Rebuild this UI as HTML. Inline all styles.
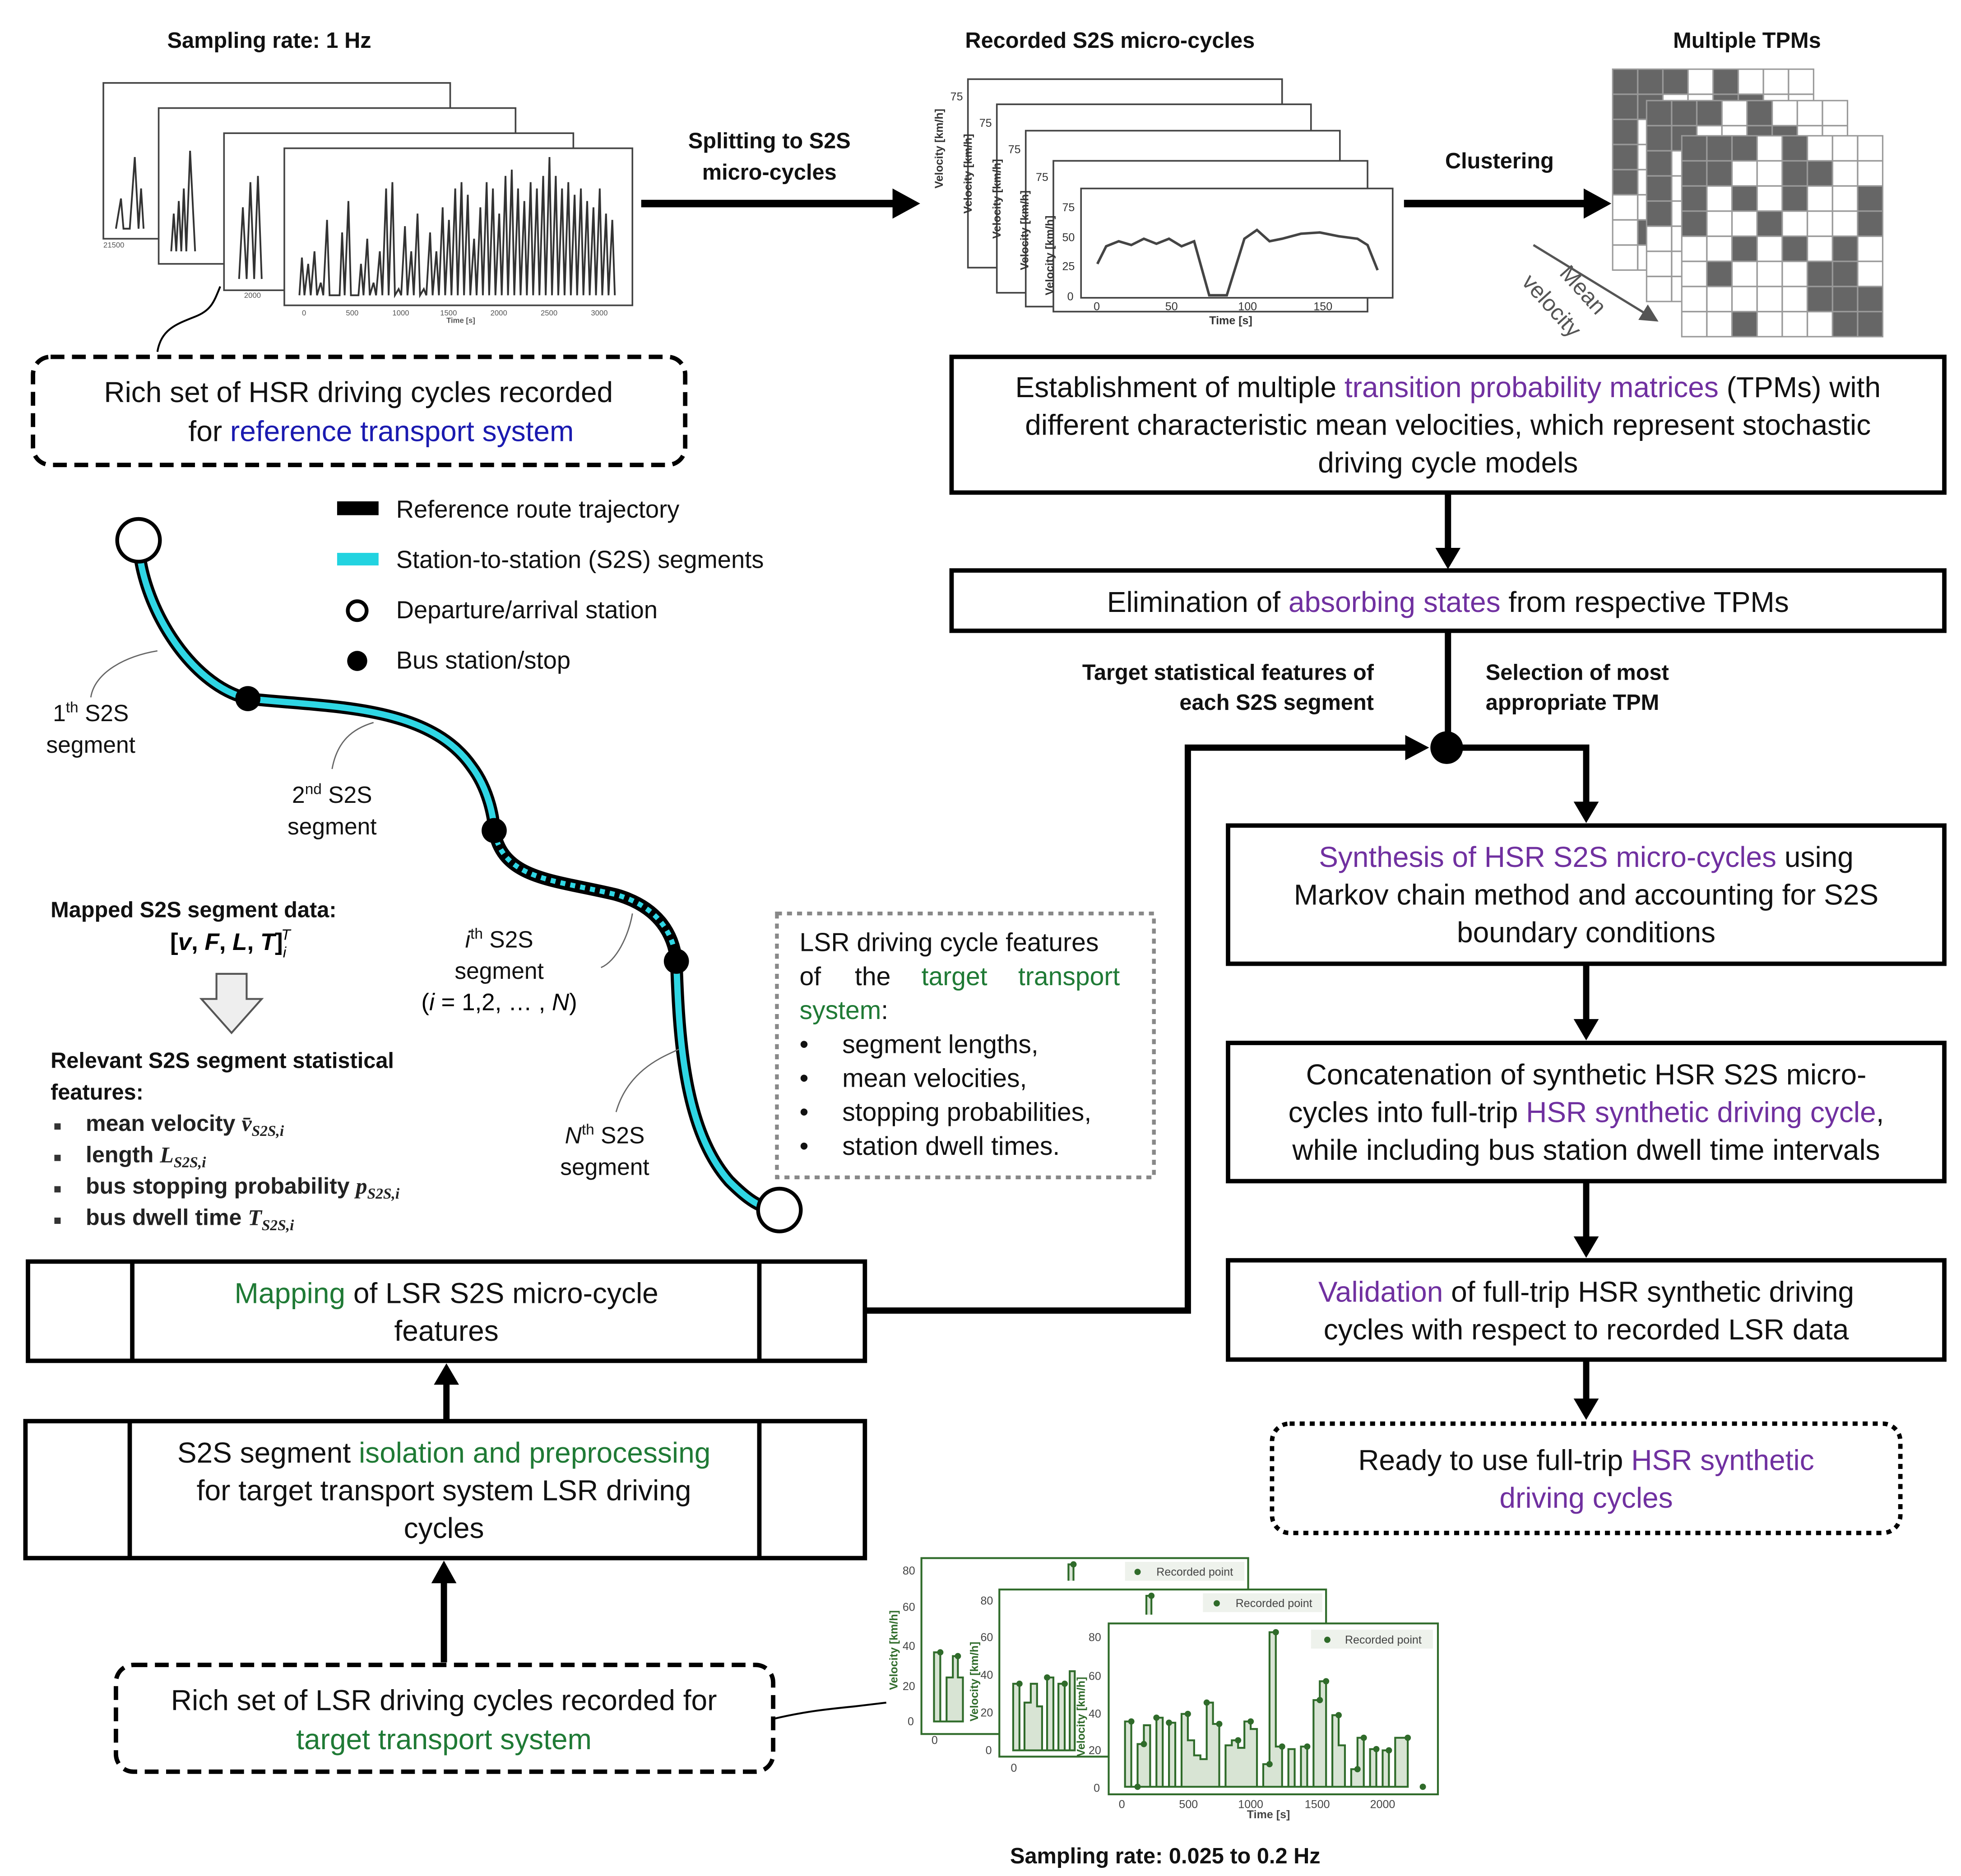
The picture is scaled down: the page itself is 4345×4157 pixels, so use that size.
<!DOCTYPE html>
<html><head><meta charset="utf-8"><style>
html,body{margin:0;padding:0;background:#fff;}
svg{display:block;}
text{font-family:"Liberation Sans",Arial,sans-serif;}
.b{font-weight:bold;font-size:17.5px;fill:#111;}
.m{font-size:23px;fill:#111;}
.l{font-size:19.5px;fill:#111;}
.s{font-size:18.5px;fill:#111;}
.pu{fill:#7030a0;}
.bl{fill:#1a1ab0;}
.gr{fill:#1f7a35;}
</style></head><body>
<svg width="4345" height="4157" viewBox="0 0 1560 1493" xmlns="http://www.w3.org/2000/svg">
<defs>
<pattern id="grid" x="0" y="0" width="20" height="20" patternUnits="userSpaceOnUse"><rect width="20" height="20" fill="none" stroke="#999" stroke-width="1.2"/></pattern>
<marker id="ag" markerWidth="8" markerHeight="8" refX="7" refY="4" orient="auto" markerUnits="strokeWidth"><path d="M0,0 L8,4 L0,8 Z" fill="#555"/></marker>
</defs>
<rect width="1560" height="1493" fill="#fff"/>

<!-- Top-left HSR charts -->
<text class="b" x="214" y="38" text-anchor="middle">Sampling rate: 1 Hz</text>
<g stroke="#444" fill="#fff" stroke-width="1.3">
<rect x="82" y="66" width="276" height="124"/>
<rect x="126" y="86" width="284" height="124"/>
<rect x="178" y="106" width="278" height="125"/>
<rect x="226" y="118" width="277" height="125"/>
</g>
<g stroke="#333" fill="none" stroke-width="1.4">
<path d="M92,182 L96,158 L98,182 L103,182 L107,125 L110,182 L112,150 L114,182"/>
<path d="M136,200 L138,170 L140,200 L142,160 L144,200 L146,150 L148,200 L151,120 L155,200"/>
<path d="M190,222 L193,165 L196,222 L199,145 L202,222 L205,140 L208,222"/>
<path d="M238,235 L240,205 L242,235 L245,210 L247,235 L250,200 L252,235 L255,225 L257,235 L260,175 L262,235 L270,235 L272,185 L274,235 L277,160 L279,235 L285,235 L287,210 L289,235 L292,190 L294,235 L297,225 L299,235 L302,200 L304,235 L307,150 L309,235 L312,145 L314,235 L317,230 L319,235 L322,180 L324,235 L327,200 L329,235 L332,170 L334,235 L337,230 L339,235 L342,185 L344,235 L347,200 L349,235 L352,165 L354,235 L357,175 L359,235 L362,150 L364,235 L367,145 L369,235 L372,155 L374,235 L377,190 L379,235 L382,165 L384,235 L387,145 L389,235 L392,150 L394,235 L397,170 L399,235 L402,140 L404,235 L407,135 L409,235 L412,150 L414,235 L417,160 L419,235 L422,145 L424,235 L427,150 L429,235 L432,140 L434,235 L437,125 L439,235 L442,140 L444,235 L447,150 L449,235 L452,145 L454,235 L457,155 L459,235 L462,150 L464,235 L467,160 L469,235 L472,165 L474,235 L477,150 L479,235 L482,170 L484,235 L487,175 L489,235"/>
</g>
<g font-size="6" fill="#555"><text x="240" y="251">0</text><text x="275" y="251">500</text><text x="312" y="251">1000</text><text x="350" y="251">1500</text><text x="390" y="251">2000</text><text x="430" y="251">2500</text><text x="470" y="251">3000</text><text x="355" y="257" font-weight="bold">Time [s]</text><text x="82" y="197">21500</text><text x="194" y="237">2000</text></g>
<path d="M125,280 C128,262 140,258 155,252 C168,247 170,240 175,228" stroke="#000" stroke-width="1.5" fill="none"/>

<!-- Arrow 1 -->
<line x1="510" y1="162" x2="712" y2="162" stroke="#000" stroke-width="6"/>
<path d="M710,150 L732,162 L710,174 Z" fill="#000"/>
<text class="b" x="612" y="118" text-anchor="middle">Splitting to S2S</text>
<text class="b" x="612" y="143" text-anchor="middle">micro-cycles</text>

<!-- micro-cycles -->
<text class="b" x="883" y="38" text-anchor="middle">Recorded S2S micro-cycles</text>
<g stroke="#444" fill="#fff" stroke-width="1.3">
<rect x="770" y="63" width="250" height="150"/>
<rect x="793" y="83" width="250" height="150"/>
<rect x="816" y="104" width="250" height="140"/>
<rect x="838" y="128" width="250" height="120"/>
<rect x="860" y="150" width="248" height="87"/>
</g>
<g font-size="9" fill="#333">
<text x="756" y="80">75</text><text x="779" y="101">75</text><text x="802" y="122">75</text><text x="824" y="144">75</text>
<text x="845" y="168">75</text><text x="845" y="192">50</text><text x="845" y="215">25</text><text x="849" y="239">0</text>
<text x="870" y="247">0</text><text x="927" y="247">50</text><text x="985" y="247">100</text><text x="1045" y="247">150</text>
<text x="962" y="258" font-weight="bold">Time [s]</text>
<text transform="translate(750,150) rotate(-90)" font-weight="bold">Velocity [km/h]</text>
<text transform="translate(773,170) rotate(-90)" font-weight="bold">Velocity [km/h]</text>
<text transform="translate(796,190) rotate(-90)" font-weight="bold">Velocity [km/h]</text>
<text transform="translate(818,215) rotate(-90)" font-weight="bold">Velocity [km/h]</text>
<text transform="translate(838,235) rotate(-90)" font-weight="bold">Velocity [km/h]</text>
</g>
<path d="M873,210 L880,196 L890,192 L900,195 L910,190 L920,194 L930,190 L940,196 L950,192 L962,235 L976,235 L990,190 L1000,183 L1010,192 L1020,190 L1035,186 L1050,185 L1065,188 L1080,190 L1088,195 L1096,215" stroke="#444" stroke-width="2" fill="none"/>

<!-- Arrow 2 -->
<line x1="1117" y1="162" x2="1262" y2="162" stroke="#000" stroke-width="6"/>
<path d="M1260,150 L1282,162 L1260,174 Z" fill="#000"/>
<text class="b" x="1193" y="134" text-anchor="middle">Clustering</text>

<!-- TPMs -->
<text class="b" x="1390" y="38" text-anchor="middle">Multiple TPMs</text>
<g transform="translate(1283,55)">
<rect x="0" y="0" width="160" height="160" fill="#fff"/>
<g fill="#666"><rect x="0" y="0" width="60" height="20"/><rect x="80" y="0" width="20" height="20"/><rect x="0" y="20" width="40" height="20"/><rect x="0" y="40" width="20" height="60"/><rect x="20" y="120" width="20" height="20"/><rect x="80" y="20" width="40" height="20"/></g>
<rect x="0" y="0" width="160" height="160" fill="url(#grid)" stroke="#999"/>
</g>
<g transform="translate(1310,80)">
<rect x="0" y="0" width="160" height="160" fill="#fff"/>
<g fill="#666"><rect x="0" y="0" width="60" height="20"/><rect x="80" y="0" width="20" height="20"/><rect x="0" y="20" width="40" height="20"/><rect x="80" y="20" width="40" height="20"/><rect x="0" y="40" width="20" height="60"/></g>
<rect x="0" y="0" width="160" height="160" fill="url(#grid)" stroke="#999"/>
</g>
<g transform="translate(1338,108)">
<rect x="0" y="0" width="160" height="160" fill="#fff"/>
<g fill="#666">
<rect x="0" y="0" width="60" height="20"/><rect x="80" y="0" width="20" height="20"/>
<rect x="0" y="20" width="40" height="20"/><rect x="80" y="20" width="40" height="20"/>
<rect x="0" y="40" width="20" height="20"/><rect x="40" y="40" width="20" height="20"/><rect x="80" y="40" width="20" height="20"/><rect x="140" y="40" width="20" height="20"/>
<rect x="0" y="60" width="20" height="20"/><rect x="60" y="60" width="20" height="20"/><rect x="140" y="60" width="20" height="20"/>
<rect x="40" y="80" width="20" height="20"/><rect x="80" y="80" width="20" height="20"/><rect x="120" y="80" width="20" height="20"/>
<rect x="20" y="100" width="20" height="20"/><rect x="100" y="100" width="40" height="20"/>
<rect x="100" y="120" width="60" height="20"/>
<rect x="40" y="140" width="20" height="20"/><rect x="120" y="140" width="40" height="20"/>
</g>
<rect x="0" y="0" width="160" height="160" fill="url(#grid)" stroke="#999"/>
</g>
<line x1="1220" y1="195" x2="1318" y2="255" stroke="#555" stroke-width="1.8" marker-end="url(#ag)"/>
<text transform="translate(1240,218) rotate(48)" font-size="18" fill="#555">Mean</text>
<text transform="translate(1210,225) rotate(48)" font-size="18" fill="#555">velocity</text>

<!-- HSR dashed box -->
<rect x="26" y="284" width="519" height="86" rx="14" fill="#fff" stroke="#000" stroke-width="3.5" stroke-dasharray="11,6"/>
<text class="m" x="285" y="320" text-anchor="middle">Rich set of HSR driving cycles recorded</text>
<text class="m" x="303" y="351" text-anchor="middle">for <tspan class="bl">reference transport system</tspan></text>

<!-- right column boxes -->
<rect x="757" y="284" width="790" height="108" fill="#fff" stroke="#000" stroke-width="3.5"/>
<text class="m" x="1152" y="316" text-anchor="middle">Establishment of multiple <tspan class="pu">transition probability matrices</tspan> (TPMs) with</text>
<text class="m" x="1152" y="346" text-anchor="middle">different characteristic mean velocities, which represent stochastic</text>
<text class="m" x="1152" y="376" text-anchor="middle">driving cycle models</text>
<line x1="1152" y1="392" x2="1152" y2="438" stroke="#000" stroke-width="5"/>
<path d="M1142,436 L1152,453 L1162,436 Z" fill="#000"/>
<rect x="757" y="454" width="790" height="48" fill="#fff" stroke="#000" stroke-width="3.5"/>
<text class="m" x="1152" y="487" text-anchor="middle">Elimination of <tspan class="pu">absorbing states</tspan> from respective TPMs</text>
<line x1="1152" y1="502" x2="1152" y2="585" stroke="#000" stroke-width="5"/>
<circle cx="1151" cy="595" r="13" fill="#000"/>
<text class="b" x="1093" y="541" text-anchor="end">Target statistical features of</text>
<text class="b" x="1093" y="565" text-anchor="end">each S2S segment</text>
<text class="b" x="1182" y="541">Selection of most</text>
<text class="b" x="1182" y="565">appropriate TPM</text>
<polyline points="1151,595 1262,595 1262,640" fill="none" stroke="#000" stroke-width="5"/>
<path d="M1252,638 L1262,655 L1272,638 Z" fill="#000"/>
<polyline points="688,1043 945,1043 945,595 1120,595" fill="none" stroke="#000" stroke-width="5"/>
<path d="M1118,585 L1137,595 L1118,605 Z" fill="#000"/>

<rect x="977" y="657" width="570" height="110" fill="#fff" stroke="#000" stroke-width="3.5"/>
<text class="m" x="1262" y="690" text-anchor="middle"><tspan class="pu">Synthesis of HSR S2S micro-cycles</tspan> using</text>
<text class="m" x="1262" y="720" text-anchor="middle">Markov chain method and accounting for S2S</text>
<text class="m" x="1262" y="750" text-anchor="middle">boundary conditions</text>
<line x1="1262" y1="767" x2="1262" y2="813" stroke="#000" stroke-width="5"/>
<path d="M1252,811 L1262,828 L1272,811 Z" fill="#000"/>
<rect x="977" y="830" width="570" height="110" fill="#fff" stroke="#000" stroke-width="3.5"/>
<text class="m" x="1262" y="863" text-anchor="middle">Concatenation of synthetic HSR S2S micro-</text>
<text class="m" x="1262" y="893" text-anchor="middle">cycles into full-trip <tspan class="pu">HSR synthetic driving cycle</tspan>,</text>
<text class="m" x="1262" y="923" text-anchor="middle">while including bus station dwell time intervals</text>
<line x1="1262" y1="940" x2="1262" y2="986" stroke="#000" stroke-width="5"/>
<path d="M1252,984 L1262,1001 L1272,984 Z" fill="#000"/>
<rect x="977" y="1003" width="570" height="79" fill="#fff" stroke="#000" stroke-width="3.5"/>
<text class="m" x="1262" y="1036" text-anchor="middle"><tspan class="pu">Validation</tspan> of full-trip HSR synthetic driving</text>
<text class="m" x="1262" y="1066" text-anchor="middle">cycles with respect to recorded LSR data</text>
<line x1="1262" y1="1082" x2="1262" y2="1115" stroke="#000" stroke-width="5"/>
<path d="M1252,1113 L1262,1130 L1272,1113 Z" fill="#000"/>
<rect x="1012" y="1133" width="500" height="87" rx="14" fill="#fff" stroke="#000" stroke-width="3.5" stroke-dasharray="4,4"/>
<text class="m" x="1262" y="1170" text-anchor="middle">Ready to use full-trip <tspan class="pu">HSR synthetic</tspan></text>
<text class="m" x="1262" y="1200" text-anchor="middle"><tspan class="pu">driving cycles</tspan></text>

<!-- Legend -->
<rect x="268" y="399" width="33" height="11" fill="#000"/>
<text class="l" x="315" y="412">Reference route trajectory</text>
<rect x="268" y="440" width="33" height="10" fill="#22d3e0"/>
<text class="l" x="315" y="452">Station-to-station (S2S) segments</text>
<circle cx="284" cy="486" r="7.5" fill="#fff" stroke="#000" stroke-width="3"/>
<text class="l" x="315" y="492">Departure/arrival station</text>
<circle cx="284" cy="526" r="8" fill="#000"/>
<text class="l" x="315" y="532">Bus station/stop</text>

<!-- route -->
<path d="M110,432 C112,480 150,545 197,556 C260,563 340,560 375,610 C390,630 393,655 393,661" fill="none" stroke="#000" stroke-width="10"/>
<path d="M110,432 C112,480 150,545 197,556 C260,563 340,560 375,610 C390,630 393,655 393,661" fill="none" stroke="#2fd6e4" stroke-width="5"/>
<path d="M393,661 C400,700 440,700 490,712 C525,722 536,745 538,765" fill="none" stroke="#000" stroke-width="10"/>
<path d="M393,661 C400,700 440,700 490,712 C525,722 536,745 538,765" fill="none" stroke="#2fd6e4" stroke-width="4" stroke-dasharray="4,4"/>
<path d="M538,765 C540,830 545,900 580,940 C595,955 605,962 620,963" fill="none" stroke="#000" stroke-width="10"/>
<path d="M538,765 C540,830 545,900 580,940 C595,955 605,962 620,963" fill="none" stroke="#2fd6e4" stroke-width="5"/>
<circle cx="110" cy="430" r="17" fill="#fff" stroke="#000" stroke-width="3"/>
<circle cx="620" cy="963" r="17" fill="#fff" stroke="#000" stroke-width="3"/>
<circle cx="197" cy="556" r="10" fill="#000"/>
<circle cx="393" cy="661" r="10" fill="#000"/>
<circle cx="538" cy="765" r="10" fill="#000"/>
<g stroke="#666" stroke-width="1" fill="none">
<path d="M125,518 C100,522 75,535 72,555"/>
<path d="M297,575 C280,580 268,590 264,612"/>
<path d="M503,727 C500,745 490,765 478,770"/>
<path d="M540,835 C530,840 500,850 490,885"/>
</g>
<text class="s" x="72" y="574" text-anchor="middle">1<tspan font-size="12" dy="-7">th</tspan><tspan dy="7"> S2S</tspan></text>
<text class="s" x="72" y="599" text-anchor="middle">segment</text>
<text class="s" x="264" y="639" text-anchor="middle">2<tspan font-size="12" dy="-7">nd</tspan><tspan dy="7"> S2S</tspan></text>
<text class="s" x="264" y="664" text-anchor="middle">segment</text>
<text class="s" x="397" y="754" text-anchor="middle"><tspan font-style="italic">i</tspan><tspan font-size="12" dy="-7">th</tspan><tspan dy="7"> S2S</tspan></text>
<text class="s" x="397" y="779" text-anchor="middle">segment</text>
<text x="397" y="804" text-anchor="middle" font-family="'Liberation Serif',serif" font-size="19">(<tspan font-style="italic">i</tspan> = 1,2, … , <tspan font-style="italic">N</tspan>)</text>
<text class="s" x="481" y="910" text-anchor="middle"><tspan font-style="italic">N</tspan><tspan font-size="12" dy="-7">th</tspan><tspan dy="7"> S2S</tspan></text>
<text class="s" x="481" y="935" text-anchor="middle">segment</text>

<!-- mapped data -->
<text class="b" x="40" y="730" font-size="18">Mapped S2S segment data:</text>
<text x="183" y="756" text-anchor="middle" font-family="'Liberation Serif',serif" font-size="19" font-weight="bold">[<tspan font-style="italic">v</tspan>, <tspan font-style="italic">F</tspan>, <tspan font-style="italic">L</tspan>, <tspan font-style="italic">T</tspan>]<tspan font-size="12" dy="6" font-weight="normal" font-style="italic">i</tspan><tspan font-size="12" dy="-14" dx="-4" font-weight="normal" font-style="italic">T</tspan></text>
<path d="M172,775 L196,775 L196,795 L208,795 L184,822 L160,795 L172,795 Z" fill="#eee" stroke="#555" stroke-width="1.5"/>
<text class="b" x="40" y="850" font-size="18">Relevant S2S segment statistical</text>
<text class="b" x="40" y="875" font-size="18">features:</text>
<g font-size="18" font-weight="bold" fill="#222">
<rect x="43" y="894" width="5" height="5" fill="#333"/><text x="68" y="900">mean velocity <tspan font-family="'Liberation Serif',serif" font-style="italic">v̄<tspan font-size="12" dy="4">S2S,i</tspan></tspan></text>
<rect x="43" y="919" width="5" height="5" fill="#333"/><text x="68" y="925">length <tspan font-family="'Liberation Serif',serif" font-style="italic">L<tspan font-size="12" dy="4">S2S,i</tspan></tspan></text>
<rect x="43" y="944" width="5" height="5" fill="#333"/><text x="68" y="950">bus stopping probability <tspan font-family="'Liberation Serif',serif" font-style="italic">p<tspan font-size="12" dy="4">S2S,i</tspan></tspan></text>
<rect x="43" y="969" width="5" height="5" fill="#333"/><text x="68" y="975">bus dwell time <tspan font-family="'Liberation Serif',serif" font-style="italic">T<tspan font-size="12" dy="4">S2S,i</tspan></tspan></text>
</g>

<!-- LSR features box -->
<rect x="618" y="727" width="300" height="210" fill="#fff" stroke="#888" stroke-width="3" stroke-dasharray="4,4"/>
<g font-size="20.5" fill="#111">
<text x="636" y="757">LSR driving cycle features</text>
<text x="636" y="784">of</text><text x="680" y="784">the</text><text x="733" y="784" class="gr">target</text><text x="810" y="784" class="gr">transport</text>
<text x="636" y="811"><tspan class="gr">system</tspan>:</text>
<text x="636" y="838">•</text><text x="670" y="838">segment lengths,</text>
<text x="636" y="865">•</text><text x="670" y="865">mean velocities,</text>
<text x="636" y="892">•</text><text x="670" y="892">stopping probabilities,</text>
<text x="636" y="919">•</text><text x="670" y="919">station dwell times.</text>
</g>

<!-- left boxes -->
<rect x="22" y="1004" width="666" height="79" fill="#fff" stroke="#000" stroke-width="3.5"/>
<line x1="105" y1="1004" x2="105" y2="1083" stroke="#000" stroke-width="3.5"/>
<line x1="604" y1="1004" x2="604" y2="1083" stroke="#000" stroke-width="3.5"/>
<text class="m" x="355" y="1037" text-anchor="middle"><tspan class="gr">Mapping</tspan> of LSR S2S micro-cycle</text>
<text class="m" x="355" y="1067" text-anchor="middle">features</text>
<line x1="355" y1="1130" x2="355" y2="1100" stroke="#000" stroke-width="5"/>
<path d="M345,1102 L355,1085 L365,1102 Z" fill="#000"/>
<rect x="20" y="1131" width="668" height="109" fill="#fff" stroke="#000" stroke-width="3.5"/>
<line x1="103" y1="1131" x2="103" y2="1240" stroke="#000" stroke-width="3.5"/>
<line x1="604" y1="1131" x2="604" y2="1240" stroke="#000" stroke-width="3.5"/>
<text class="m" x="353" y="1164" text-anchor="middle">S2S segment <tspan class="gr">isolation and preprocessing</tspan></text>
<text class="m" x="353" y="1194" text-anchor="middle">for target transport system LSR driving</text>
<text class="m" x="353" y="1224" text-anchor="middle">cycles</text>
<line x1="353" y1="1323" x2="353" y2="1258" stroke="#000" stroke-width="5"/>
<path d="M343,1260 L353,1242 L363,1260 Z" fill="#000"/>
<rect x="92" y="1325" width="523" height="85" rx="14" fill="#fff" stroke="#000" stroke-width="3.5" stroke-dasharray="11,6"/>
<text class="m" x="353" y="1361" text-anchor="middle">Rich set of LSR driving cycles recorded for</text>
<text class="m" x="353" y="1392" text-anchor="middle"><tspan class="gr">target transport system</tspan></text>
<path d="M615,1368 C640,1362 660,1360 680,1358 L705,1355" fill="none" stroke="#000" stroke-width="1.5"/>

<!-- green charts -->
<g stroke="#2f6b2a" stroke-width="1.5" fill="#fff">
<rect x="733" y="1240" width="260" height="140"/>
<rect x="795" y="1265" width="260" height="133"/>
<rect x="882" y="1292" width="262" height="136"/>
</g>
<g fill="#d8e4d4" stroke="#2f6b2a" stroke-width="1.5">
<path d="M743,1370 V1315 H748 V1370 H753 V1335 H758 V1318 H762 V1335 H766 V1370 Z"/>
<path d="M806,1393 V1340 H811 V1393 H815 V1355 H820 V1340 H825 V1358 H829 V1393 H833 V1335 H838 V1393 H842 V1340 H847 V1393 H851 V1330 H855 V1393 Z"/>
<path d="M850,1258 V1245 H854 V1258"/>
<path d="M912,1285 V1270 H916 V1285"/>
<path d="M895,1422 V1370 H900 V1422 H905 V1388 H910 V1373 H915 V1422 H920 V1367 H925 V1422 H930 V1371 H935 V1422 H940 V1364 H945 V1385 H950 V1397 H955 V1400 H960 V1355 H965 V1372 H970 V1422 H975 V1389 H980 V1385 H985 V1391 H990 V1370 H995 V1376 H1000 V1422 H1005 V1404 H1010 V1299 H1015 V1390 H1020 V1422 H1025 V1392 H1030 V1422 H1035 V1390 H1040 V1422 H1045 V1353 H1050 V1338 H1055 V1422 H1060 V1365 H1065 V1389 H1070 V1422 H1075 V1408 H1080 V1383 H1085 V1422 H1090 V1392 H1095 V1422 H1100 V1393 H1105 V1422 H1110 V1383 H1120 V1422 Z"/>
</g>
<g fill="#2f6b2a">
<circle cx="900" cy="1370" r="2.5"/><circle cx="905" cy="1422" r="2.5"/><circle cx="910" cy="1388" r="2.5"/><circle cx="920" cy="1367" r="2.5"/><circle cx="930" cy="1371" r="2.5"/><circle cx="945" cy="1364" r="2.5"/><circle cx="960" cy="1355" r="2.5"/><circle cx="970" cy="1372" r="2.5"/><circle cx="985" cy="1385" r="2.5"/><circle cx="995" cy="1370" r="2.5"/><circle cx="1010" cy="1404" r="2.5"/><circle cx="1015" cy="1299" r="2.5"/><circle cx="1020" cy="1390" r="2.5"/><circle cx="1040" cy="1390" r="2.5"/><circle cx="1050" cy="1353" r="2.5"/><circle cx="1055" cy="1338" r="2.5"/><circle cx="1065" cy="1365" r="2.5"/><circle cx="1080" cy="1408" r="2.5"/><circle cx="1085" cy="1383" r="2.5"/><circle cx="1095" cy="1392" r="2.5"/><circle cx="1105" cy="1393" r="2.5"/><circle cx="1120" cy="1383" r="2.5"/><circle cx="1132" cy="1422" r="2.5"/>
<circle cx="748" cy="1315" r="2.5"/><circle cx="762" cy="1318" r="2.5"/><circle cx="811" cy="1340" r="2.5"/><circle cx="833" cy="1335" r="2.5"/><circle cx="847" cy="1340" r="2.5"/><circle cx="854" cy="1245" r="2.5"/><circle cx="916" cy="1270" r="2.5"/>
</g>
<g font-size="9" fill="#444">
<rect x="895" y="1243" width="95" height="15" fill="#eef2ec"/><circle cx="905" cy="1251" r="2.5" fill="#2f6b2a"/><text x="920" y="1254">Recorded point</text>
<rect x="957" y="1268" width="95" height="15" fill="#eef2ec"/><circle cx="968" cy="1276" r="2.5" fill="#2f6b2a"/><text x="983" y="1279">Recorded point</text>
<rect x="1043" y="1297" width="97" height="15" fill="#eef2ec"/><circle cx="1056" cy="1305" r="2.5" fill="#2f6b2a"/><text x="1070" y="1308">Recorded point</text>
<text x="890" y="1439">0</text><text x="938" y="1439">500</text><text x="985" y="1439">1000</text><text x="1038" y="1439">1500</text><text x="1090" y="1439">2000</text>
<text x="992" y="1447" font-weight="bold">Time [s]</text>
<text x="866" y="1306">80</text><text x="866" y="1337">60</text><text x="866" y="1367">40</text><text x="866" y="1396">20</text><text x="870" y="1426">0</text>
<text x="718" y="1253">80</text><text x="718" y="1282">60</text><text x="718" y="1313">40</text><text x="718" y="1345">20</text><text x="722" y="1373">0</text>
<text x="780" y="1277">80</text><text x="780" y="1306">60</text><text x="780" y="1336">40</text><text x="780" y="1366">20</text><text x="784" y="1396">0</text>
<text x="741" y="1388">0</text><text x="804" y="1410">0</text>
<text transform="translate(863,1398) rotate(-90)" font-weight="bold" fill="#2f6b2a">Velocity [km/h]</text>
<text transform="translate(778,1370) rotate(-90)" font-weight="bold" fill="#2f6b2a">Velocity [km/h]</text>
<text transform="translate(714,1345) rotate(-90)" font-weight="bold" fill="#2f6b2a">Velocity [km/h]</text>
</g>
<text class="b" x="927" y="1483" text-anchor="middle">Sampling rate: 0.025 to 0.2 Hz</text>
</svg>
</body></html>
